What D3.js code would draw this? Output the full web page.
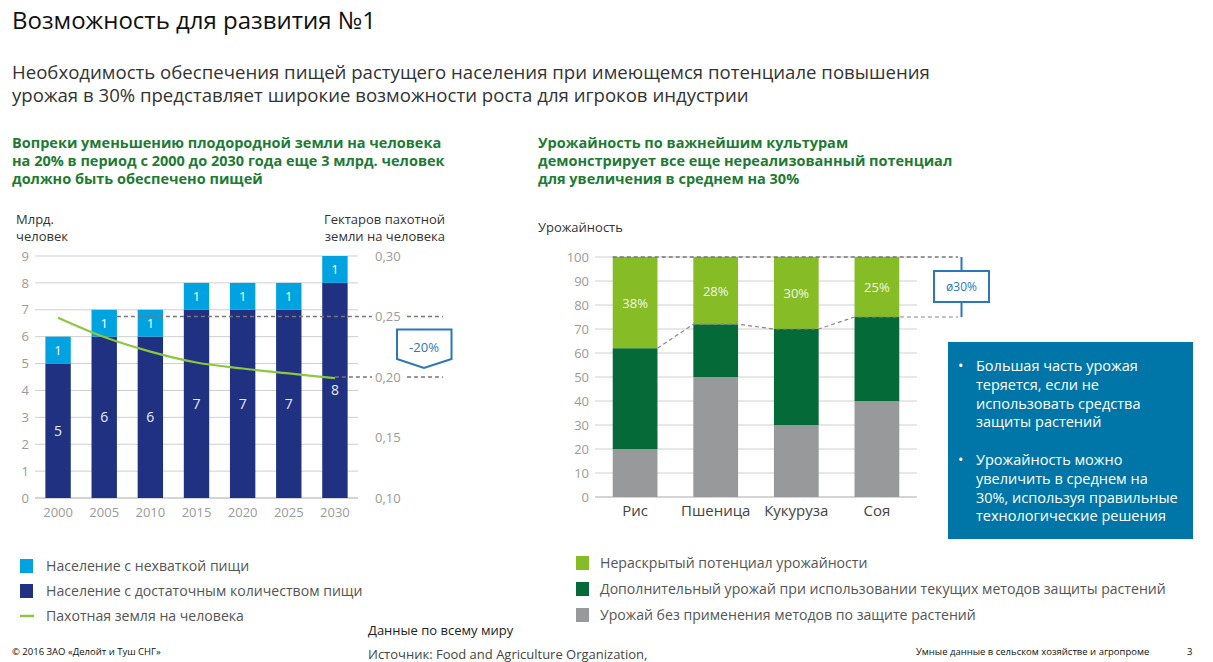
<!DOCTYPE html>
<html><head><meta charset="utf-8">
<script src="https://cdn.jsdelivr.net/npm/d3@7"></script>
<style>
body{margin:0;background:#fff;}
svg{display:block;font-family:"Open Sans",sans-serif;}
</style></head>
<body>
<svg id="c" width="1213" height="662"></svg>
<script>
// ---- Left chart data ----
const years = ["2000","2005","2010","2015","2020","2025","2030"];
const fedPop = [5,6,6,7,7,7,8];          // Население с достаточным количеством пищи
const hungryPop = [1,1,1,1,1,1,1];       // Население с нехваткой пищи
const landPerCapita = [0.249,0.233,0.221,0.212,0.207,0.203,0.199];
const leftTicks = [0,1,2,3,4,5,6,7,8,9];
const rightTicks = [0.10,0.15,0.20,0.25,0.30];

// ---- Right chart data ----
const crops = ["Рис","Пшеница","Кукуруза","Соя"];
const baseYield = [20,50,30,40];     // Урожай без применения методов
const extraYield = [42,22,40,35];    // Дополнительный урожай
const potential = [38,28,30,25];     // Нераскрытый потенциал
const yieldTicks = [0,10,20,30,40,50,60,70,80,90,100];

const C = {navy:"#1f3180", lblue:"#00a3e0", line:"#8dc63f", lgreen:"#86bc25", dgreen:"#046a38", gray:"#97999b",
  grid:"#cfcfcf", axisTxt:"#9a9a9a", head:"#1e7b34", txt:"#333", leg:"#555", callout:"#2a78b8"};

const svg = d3.select("#c");

// Titles
svg.append("text").attr("x",12).attr("y",29).attr("font-size",24).attr("fill","#111").text("Возможность для развития №1");
["Необходимость обеспечения пищей растущего населения при имеющемся потенциале повышения",
 "урожая в 30% представляет широкие возможности роста для игроков индустрии"].forEach((t,i)=>
  svg.append("text").attr("x",12).attr("y",79+i*23).attr("font-size",18.6).attr("fill","#333").text(t));
["Вопреки уменьшению плодородной земли на человека","на 20% в период с 2000 до 2030 года еще 3 млрд. человек","должно быть обеспечено пищей"]
 .forEach((t,i)=>svg.append("text").attr("x",12).attr("y",148+i*18).attr("font-size",14.5).attr("font-weight",700).attr("fill",C.head).text(t));
["Урожайность по важнейшим культурам","демонстрирует все еще нереализованный потенциал","для увеличения в среднем на 30%"]
 .forEach((t,i)=>svg.append("text").attr("x",538).attr("y",148+i*18).attr("font-size",14.5).attr("font-weight",700).attr("fill",C.head).text(t));

// ===== Left chart =====
const xL = d3.scaleBand().domain(years).range([35,358]).paddingInner(0.45).paddingOuter(0.225);
const yL = d3.scaleLinear().domain([0,9]).range([498,256]);
const yR = d3.scaleLinear().domain([0.10,0.30]).range([498,256]);
const gL = svg.append("g");

gL.append("g").selectAll("line").data(leftTicks).join("line")
  .attr("x1",35).attr("x2",358).attr("y1",d=>yL(d)).attr("y2",d=>yL(d))
  .attr("stroke",d=>d===0?"#aaa":C.grid).attr("stroke-width",1);

const axL = gL.append("g").attr("transform","translate(29,0)").call(d3.axisLeft(yL).tickValues(leftTicks).tickSize(0).tickPadding(0));
axL.select(".domain").remove();
axL.selectAll("text").attr("fill",C.axisTxt).attr("font-size",13).attr("font-family","Open Sans");

const axR = gL.append("g").attr("transform","translate(375,0)").call(d3.axisRight(yR).tickValues(rightTicks).tickSize(0).tickPadding(0).tickFormat(d=>d3.format(".2f")(d).replace(".",",")));
axR.select(".domain").remove();
axR.selectAll("text").attr("fill",C.axisTxt).attr("font-size",13).attr("font-family","Open Sans");

const axB = gL.append("g").attr("transform","translate(0,502)").call(d3.axisBottom(xL).tickSize(0).tickPadding(6));
axB.select(".domain").remove();
axB.selectAll("text").attr("fill",C.axisTxt).attr("font-size",13).attr("font-family","Open Sans");

gL.append("text").attr("x",16).attr("y",224).attr("font-size",13).attr("fill",C.txt).text("Млрд.");
gL.append("text").attr("x",16).attr("y",241).attr("font-size",13).attr("fill",C.txt).text("человек");
gL.append("text").attr("x",445).attr("y",224).attr("text-anchor","end").attr("font-size",13).attr("fill",C.txt).text("Гектаров пахотной");
gL.append("text").attr("x",445).attr("y",241).attr("text-anchor","end").attr("font-size",13).attr("fill",C.txt).text("земли на человека");

// bars
gL.append("g").selectAll("rect").data(years).join("rect")
  .attr("x",d=>xL(d)).attr("width",xL.bandwidth())
  .attr("y",(d,i)=>yL(fedPop[i])).attr("height",(d,i)=>yL(0)-yL(fedPop[i])).attr("fill",C.navy);
gL.append("g").selectAll("rect").data(years).join("rect")
  .attr("x",d=>xL(d)).attr("width",xL.bandwidth())
  .attr("y",(d,i)=>yL(fedPop[i]+hungryPop[i])).attr("height",(d,i)=>yL(fedPop[i])-yL(fedPop[i]+hungryPop[i])).attr("fill",C.lblue);
gL.append("g").selectAll("text").data(years).join("text")
  .attr("x",d=>xL(d)+xL.bandwidth()/2).attr("y",(d,i)=>yL(fedPop[i]/2)+5)
  .attr("text-anchor","middle").attr("font-size",14).attr("fill","#e8eaf2").text((d,i)=>fedPop[i]);
gL.append("g").selectAll("text").data(years).join("text")
  .attr("x",d=>xL(d)+xL.bandwidth()/2).attr("y",(d,i)=>yL(fedPop[i]+hungryPop[i]/2)+5)
  .attr("text-anchor","middle").attr("font-size",13).attr("fill","#fff").text((d,i)=>hungryPop[i]);

// dashed reference lines
const dash = (g,x1,x2,y)=>g.append("line").attr("x1",x1).attr("x2",x2).attr("y1",y).attr("y2",y)
  .attr("stroke","#777").attr("stroke-width",1.5).attr("stroke-dasharray","4,3");
dash(gL, xL("2005")+xL.bandwidth(), 372, yR(0.25)); dash(gL,407,443,yR(0.25));
dash(gL, xL("2030")+xL.bandwidth()/2, 372, yR(0.20)); dash(gL,407,443,yR(0.20));

// line
gL.append("path").datum(landPerCapita)
  .attr("d",d3.line().x((d,i)=>xL(years[i])+xL.bandwidth()/2).y(d=>yR(d)).curve(d3.curveMonotoneX))
  .attr("fill","none").attr("stroke",C.line).attr("stroke-width",2.2);

// -20% callout
gL.append("path").attr("d","M397,329.5 L451.5,329.5 L451.5,359 L424,368 L397,359 Z")
  .attr("fill","#fff").attr("stroke",C.callout).attr("stroke-width",2);
gL.append("text").attr("x",424).attr("y",352).attr("text-anchor","middle").attr("font-size",13).attr("fill",C.callout).text("-20%");

// ===== Right chart =====
const xC = d3.scaleBand().domain(crops).range([595,917]).paddingInner(0.445).paddingOuter(0.22);
const yC = d3.scaleLinear().domain([0,100]).range([497,257]);
const gR = svg.append("g");

gR.append("text").attr("x",538).attr("y",232).attr("font-size",13).attr("fill",C.txt).text("Урожайность");

gR.append("g").selectAll("line").data(yieldTicks).join("line")
  .attr("x1",595).attr("x2",917).attr("y1",d=>yC(d)).attr("y2",d=>yC(d))
  .attr("stroke",d=>d===0?"#aaa":C.grid).attr("stroke-width",1);
const axC = gR.append("g").attr("transform","translate(589,0)").call(d3.axisLeft(yC).tickValues(yieldTicks).tickSize(0).tickPadding(0));
axC.select(".domain").remove();
axC.selectAll("text").attr("fill",C.axisTxt).attr("font-size",13).attr("font-family","Open Sans");
const axCB = gR.append("g").attr("transform","translate(0,500)").call(d3.axisBottom(xC).tickSize(0).tickPadding(5));
axCB.select(".domain").remove();
axCB.selectAll("text").attr("fill","#444").attr("font-size",15).attr("font-family","Open Sans");

const stacks = [
  {vals:baseYield, off:crops.map(()=>0), color:C.gray},
  {vals:extraYield, off:baseYield, color:C.dgreen},
  {vals:potential, off:baseYield.map((b,i)=>b+extraYield[i]), color:C.lgreen}
];
stacks.forEach(s=>{
  gR.append("g").selectAll("rect").data(crops).join("rect")
    .attr("x",d=>xC(d)).attr("width",xC.bandwidth())
    .attr("y",(d,i)=>yC(s.off[i]+s.vals[i])).attr("height",(d,i)=>yC(s.off[i])-yC(s.off[i]+s.vals[i]))
    .attr("fill",s.color);
});
gR.append("g").selectAll("text").data(crops).join("text")
  .attr("x",d=>xC(d)+xC.bandwidth()/2).attr("y",(d,i)=>yC(stacks[2].off[i]+potential[i]/2)+5)
  .attr("text-anchor","middle").attr("font-size",13).attr("fill","#f2f7e6").text((d,i)=>potential[i]+"%");

// dashed connectors
const tops = crops.map((c,i)=>baseYield[i]+extraYield[i]);
const pts = [];
crops.forEach((c,i)=>{pts.push([xC(c),yC(tops[i])]);pts.push([xC(c)+xC.bandwidth(),yC(tops[i])]);});
pts.shift();
pts.push([958,yC(tops[3])]);
gR.append("path").attr("d",d3.line()(pts)).attr("fill","none").attr("stroke","#888").attr("stroke-width",1.2).attr("stroke-dasharray","4,3");
gR.append("line").attr("x1",xC(crops[0])).attr("x2",958).attr("y1",yC(100)).attr("y2",yC(100))
  .attr("stroke","#777").attr("stroke-width",1.5).attr("stroke-dasharray","4,3");

// ø30% callout
gR.append("line").attr("x1",961.5).attr("x2",961.5).attr("y1",yC(100)).attr("y2",271).attr("stroke",C.callout).attr("stroke-width",2);
gR.append("line").attr("x1",961.5).attr("x2",961.5).attr("y1",302).attr("y2",yC(tops[3])).attr("stroke",C.callout).attr("stroke-width",2);
gR.append("rect").attr("x",934).attr("y",271).attr("width",55).attr("height",31).attr("fill","#fff").attr("stroke",C.callout).attr("stroke-width",2);
gR.append("text").attr("x",961.5).attr("y",291).attr("text-anchor","middle").attr("font-size",12).attr("fill",C.callout).text("ø30%");

// info box
svg.append("rect").attr("x",948).attr("y",342).attr("width",245).attr("height",197).attr("fill","#0076a8");
const bullets = [["Большая часть урожая","теряется, если не","использовать средства","защиты растений"],
  ["Урожайность можно","увеличить в среднем на","30%, используя правильные","технологические решения"]];
bullets.forEach((b,bi)=>{
  const y0 = bi===0?371:465;
  svg.append("text").attr("x",958).attr("y",y0).attr("font-size",14.5).attr("fill","#fff").text("•");
  b.forEach((t,i)=>svg.append("text").attr("x",976).attr("y",y0+i*18.8).attr("font-size",14.5).attr("fill","#fff").text(t));
});

// legends
const legL = [{t:"Население с нехваткой пищи",c:C.lblue,type:"sq"},{t:"Население с достаточным количеством пищи",c:C.navy,type:"sq"},{t:"Пахотная земля на человека",c:C.line,type:"ln"}];
legL.forEach((d,i)=>{
  const y = 566+i*25;
  if(d.type==="sq") svg.append("rect").attr("x",20).attr("y",y-7).attr("width",13).attr("height",14).attr("fill",d.c);
  else svg.append("line").attr("x1",20).attr("x2",34).attr("y1",y).attr("y2",y).attr("stroke",d.c).attr("stroke-width",2.5);
  svg.append("text").attr("x",46).attr("y",y+5).attr("font-size",14.1).attr("fill",C.leg).text(d.t);
});
const legR = [{t:"Нераскрытый потенциал урожайности",c:C.lgreen},{t:"Дополнительный урожай при использовании текущих методов защиты растений",c:C.dgreen},{t:"Урожай без применения методов по защите растений",c:C.gray}];
legR.forEach((d,i)=>{
  const y = 563+i*26;
  svg.append("rect").attr("x",576).attr("y",y-7).attr("width",13).attr("height",14).attr("fill",d.c);
  svg.append("text").attr("x",600).attr("y",y+5).attr("font-size",14.1).attr("fill",C.leg).text(d.t);
});

// footer
svg.append("text").attr("x",12).attr("y",655).attr("font-size",9.5).attr("fill","#111").text("© 2016 ЗАО «Делойт и Туш СНГ»");
svg.append("text").attr("x",368).attr("y",635).attr("font-size",13).attr("fill","#222").text("Данные по всему миру");
svg.append("text").attr("x",368).attr("y",659).attr("font-size",13).attr("fill","#444").text("Источник: Food and Agriculture Organization,");
svg.append("text").attr("x",916).attr("y",655).attr("font-size",9.5).attr("fill","#111").text("Умные данные в сельском хозяйстве и агропроме");
svg.append("text").attr("x",1187).attr("y",655).attr("font-size",9.5).attr("fill","#111").text("3");
</script>
</body></html>
